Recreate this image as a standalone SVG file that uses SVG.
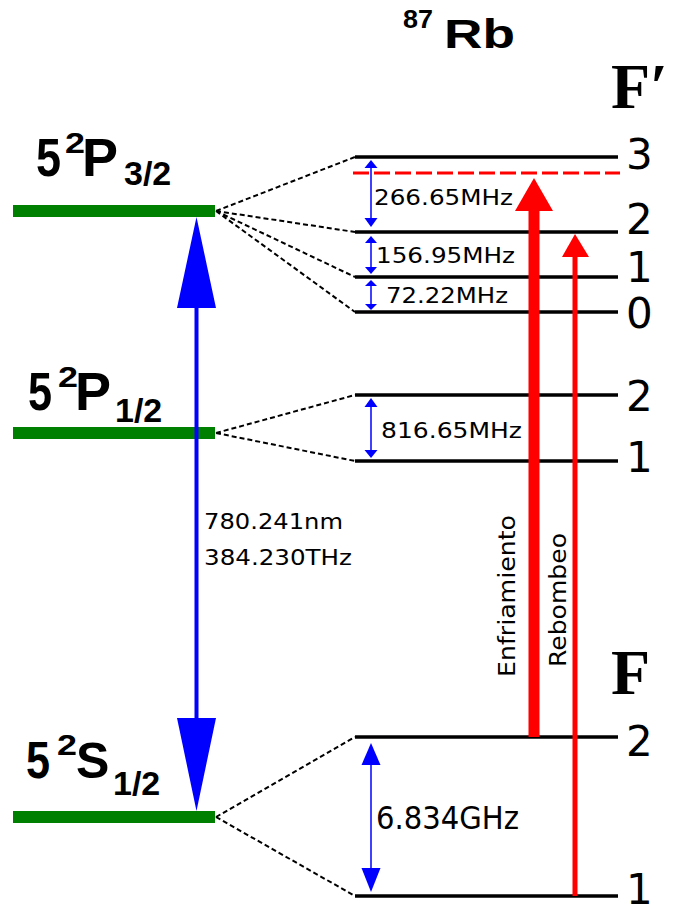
<svg xmlns="http://www.w3.org/2000/svg" width="674" height="911" viewBox="0 0 674 911">
<style>
.lvl{stroke:#000;stroke-width:3.5}
.bar{fill:#008000}
.dash{stroke:#000;stroke-width:2;stroke-dasharray:5,3;fill:none}
.num{font-family:"DejaVu Sans",Verdana,sans-serif;font-size:42px;fill:#000}
.freq{font-family:"DejaVu Sans",Verdana,sans-serif;fill:#000}
.term{font-family:"Liberation Sans",Arial,sans-serif;font-weight:bold;fill:#000}
.serif{font-family:"Liberation Serif","DejaVu Serif","Times New Roman",serif;font-weight:bold;font-size:64px;fill:#000}
.bl{stroke:#0000ff;stroke-width:1.5}
.bh{fill:#0000ff}
.rd{fill:#ff0000}
</style>
<rect width="674" height="911" fill="#fff"/>

<g id="title">
<text class="term" x="403" y="28" font-size="26" textLength="30" lengthAdjust="spacingAndGlyphs">87</text>
<text class="term" x="444" y="48" font-size="40" textLength="71" lengthAdjust="spacingAndGlyphs">Rb</text>
</g>
<g id="Fprime-label"><text class="serif" x="611" y="108">F′</text></g>
<g id="F-label"><text class="serif" x="611" y="694">F</text></g>

<g id="P32">
<rect class="bar" x="13" y="205" width="202" height="12"/>
<text class="term" x="36" y="176" font-size="54" textLength="25" lengthAdjust="spacingAndGlyphs">5</text>
<text class="term" x="65" y="153" font-size="29" textLength="20" lengthAdjust="spacingAndGlyphs">2</text>
<text class="term" x="82" y="176" font-size="54">P</text>
<text class="term" x="124" y="185" font-size="34">3/2</text>
</g>
<g id="P12">
<rect class="bar" x="13" y="427" width="202" height="12"/>
<text class="term" x="28" y="410" font-size="54" textLength="24" lengthAdjust="spacingAndGlyphs">5</text>
<text class="term" x="58" y="387" font-size="29" textLength="20" lengthAdjust="spacingAndGlyphs">2</text>
<text class="term" x="75" y="410" font-size="54">P</text>
<text class="term" x="115" y="422" font-size="34">1/2</text>
</g>
<g id="S12">
<rect class="bar" x="13" y="811" width="202" height="12"/>
<text class="term" x="26" y="778" font-size="52" textLength="24" lengthAdjust="spacingAndGlyphs">5</text>
<text class="term" x="57" y="755" font-size="29" textLength="20" lengthAdjust="spacingAndGlyphs">2</text>
<text class="term" x="76" y="778" font-size="50">S</text>
<text class="term" x="113" y="795" font-size="34">1/2</text>
</g>

<g id="Fp3"><line class="lvl" x1="355" y1="157" x2="618" y2="157"/><text class="num" x="626" y="169">3</text></g>
<g id="Fp2"><line class="lvl" x1="355" y1="232" x2="618" y2="232"/><text class="num" x="626" y="234">2</text></g>
<g id="Fp1"><line class="lvl" x1="355" y1="277" x2="618" y2="277"/><text class="num" x="626" y="282">1</text></g>
<g id="Fp0"><line class="lvl" x1="355" y1="312" x2="618" y2="312"/><text class="num" x="626" y="328">0</text></g>
<g id="P12F2"><line class="lvl" x1="355" y1="395" x2="618" y2="395"/><text class="num" x="626" y="411">2</text></g>
<g id="P12F1"><line class="lvl" x1="355" y1="461" x2="618" y2="461"/><text class="num" x="626" y="472">1</text></g>
<g id="SF2"><line class="lvl" x1="355" y1="737" x2="618" y2="737"/><text class="num" x="626" y="756">2</text></g>
<g id="SF1"><line class="lvl" x1="355" y1="896" x2="618" y2="896"/><text class="num" x="626" y="904">1</text></g>
<g id="detuned"><line x1="353" y1="173" x2="620" y2="173" stroke="#ff0000" stroke-width="3" stroke-dasharray="16,5"/></g>

<g id="connectors">
<path class="dash" d="M216 211L355 157M216 211L355 232M216 211L355 277M216 211L355 312"/>
<path class="dash" d="M216 433L355 395M216 433L355 461"/>
<path class="dash" d="M216 817L355 737M216 817L355 896"/>

<line x1="196.5" y1="300" x2="196.5" y2="725" stroke="#0000ff" stroke-width="4"/>
<polygon class="bh" points="196.5,217 177,308 216,308"/>
<polygon class="bh" points="177,718 216,718 196.5,811"/>

<line class="bl" x1="371" y1="164" x2="371" y2="222"/>
<polygon class="bh" points="371,160 364.5,168 377.5,168"/>
<polygon class="bh" points="364.5,218 377.5,218 371,227"/>
<line class="bl" x1="371" y1="240" x2="371" y2="270"/>
<polygon class="bh" points="371,236 365,243 377,243"/>
<polygon class="bh" points="365,267 377,267 371,274"/>
<line class="bl" x1="371" y1="283" x2="371" y2="306"/>
<polygon class="bh" points="371,280 365,286 377,286"/>
<polygon class="bh" points="365,304 377,304 371,310"/>
<line class="bl" x1="371" y1="402" x2="371" y2="454"/>
<polygon class="bh" points="371,398 364.5,407 377.5,407"/>
<polygon class="bh" points="364.5,450 377.5,450 371,458"/>
<line class="bl" x1="371" y1="750" x2="371" y2="885"/>
<polygon class="bh" points="371,743 361.5,765 380.5,765"/>
<polygon class="bh" points="361.5,868 380.5,868 371,892"/>

<rect class="rd" x="528.5" y="208" width="11" height="529"/>
<polygon class="rd" points="534,178 515,211 553,211"/>
<rect class="rd" x="572.5" y="254" width="5" height="642"/>
<polygon class="rd" points="575,234 562,257 589,257"/>
</g>

<g id="labels">
<text class="freq" x="374" y="205" font-size="22" textLength="139" lengthAdjust="spacingAndGlyphs">266.65MHz</text>
<text class="freq" x="376" y="263" font-size="22" textLength="139" lengthAdjust="spacingAndGlyphs">156.95MHz</text>
<text class="freq" x="386" y="303" font-size="22" textLength="122" lengthAdjust="spacingAndGlyphs">72.22MHz</text>
<text class="freq" x="381" y="438" font-size="22" textLength="141" lengthAdjust="spacingAndGlyphs">816.65MHz</text>
<text class="freq" x="376" y="829" font-size="32" textLength="143" lengthAdjust="spacingAndGlyphs">6.834GHz</text>
<text class="freq" x="204" y="529" font-size="22" textLength="139" lengthAdjust="spacingAndGlyphs">780.241nm</text>
<text class="freq" x="204" y="565" font-size="22" textLength="148" lengthAdjust="spacingAndGlyphs">384.230THz</text>
<text class="freq" font-size="23" transform="translate(515,677) rotate(-90)" textLength="162" lengthAdjust="spacingAndGlyphs">Enfriamiento</text>
<text class="freq" font-size="23" transform="translate(566,667) rotate(-90)" textLength="134" lengthAdjust="spacingAndGlyphs">Rebombeo</text>
</g>
</svg>
